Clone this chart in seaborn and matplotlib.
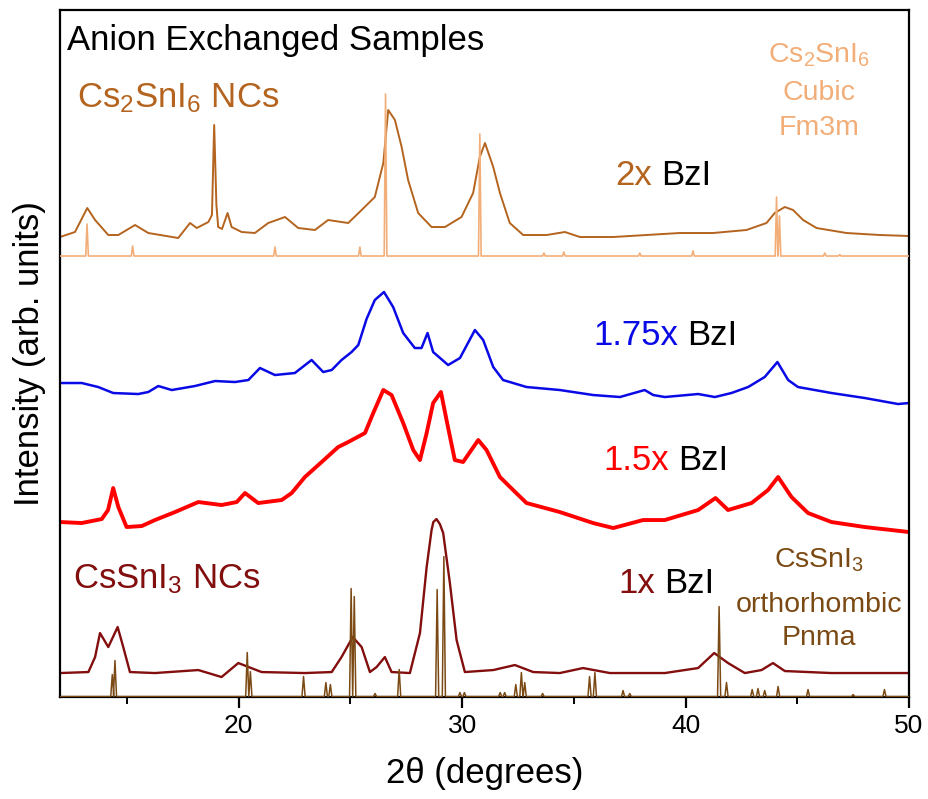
import numpy as np
import pandas as pd
import matplotlib
matplotlib.use("Agg")
import matplotlib.pyplot as plt
import seaborn as sns

# ---------------- data (2theta in degrees, intensity in arb. units) ----------------
cs2sni6_x = [12.0, 12.67, 13.22, 13.57, 14.16, 14.61, 15.36, 15.95, 17.29, 17.82, 18.12, 18.64,
             18.80, 18.90, 19.00, 19.08, 19.25, 19.50, 19.68, 20.13, 20.72, 21.32, 22.07, 22.66,
             23.41, 24.00, 24.90, 25.50, 26.09, 26.47, 26.69, 26.99, 27.29, 27.58, 28.03, 28.63,
             29.23, 29.97, 30.49, 30.79, 31.02, 31.39, 31.69, 32.13, 32.73, 33.78, 34.60, 35.27,
             36.76, 38.25, 39.74, 41.23, 42.72, 43.62, 43.99, 44.44, 44.81, 45.26, 45.86, 47.20,
             48.69, 50.0]
cs2sni6_y = [460, 465, 489, 477, 462, 462, 472, 464, 459, 474, 469, 475,
             482, 572, 492, 470, 468, 484, 470, 465, 464, 474, 480, 469,
             467, 477, 474, 487, 500, 534, 587, 577, 550, 517, 484, 470,
             470, 480, 504, 540, 554, 530, 504, 474, 462, 462, 465, 460,
             460, 462, 464, 464, 467, 474, 484, 490, 487, 477, 469, 464,
             462, 461]

bzi175_x = [12.0, 12.97, 13.71, 14.38, 15.50, 15.95, 16.40, 17.00, 18.04, 18.94, 19.83, 20.43,
            20.95, 21.62, 22.51, 23.26, 23.78, 24.16, 24.60, 25.05, 25.35, 25.72, 26.09,
            26.50, 26.91, 27.36, 27.88, 28.18, 28.45, 28.70, 29.37, 29.90, 30.57, 30.94, 31.39,
            31.83, 32.88, 34.37, 35.86, 37.06, 38.17, 38.55, 39.07, 40.56, 41.31, 42.05, 42.80,
            43.54, 44.11, 44.59, 45.03, 46.53, 48.02, 49.51, 50.0]
bzi175_y = [314, 314, 310, 304, 303, 305, 311, 307, 311, 316, 315, 317,
            329, 322, 324, 337, 325, 327, 337, 345, 352, 378, 397,
            405, 390, 364, 349, 349, 364, 345, 332, 339, 367, 357, 330,
            317, 310, 307, 302, 300, 307, 302, 300, 303, 300, 304, 310,
            320, 335, 317, 310, 304, 299, 293, 294]

bzi15_x = [12.0, 12.97, 13.87, 14.15, 14.38, 14.61, 14.98, 15.66, 16.25, 17.15, 18.19, 19.23,
           19.91, 20.28, 20.87, 21.92, 22.37, 22.96, 23.71, 24.45, 24.90, 25.65, 26.02, 26.47,
           26.84, 27.36, 27.81, 28.11, 28.41, 28.70, 29.05, 29.30, 29.67, 30.04, 30.72, 31.09,
           31.69, 32.28, 32.88, 34.37, 35.86, 36.76, 38.10, 39.07, 40.56, 41.34, 41.90, 42.95,
           43.69, 44.14, 44.74, 45.48, 46.53, 48.02, 50.0]
bzi15_y = [175, 174, 178, 187, 209, 190, 170, 171, 177, 185, 195, 192,
           195, 204, 194, 197, 204, 220, 235, 250, 255, 264, 284, 307,
           302, 274, 247, 237, 264, 294, 305, 277, 237, 235, 257, 247,
           220, 207, 194, 185, 174, 169, 177, 177, 187, 199, 187, 194,
           207, 220, 200, 184, 175, 170, 165]

cssni3_x = [12.0, 13.27, 13.57, 13.79, 14.16, 14.58, 14.83, 15.13, 16.25, 18.19, 19.23, 19.98,
            21.02, 22.96, 24.16, 24.60, 25.10, 25.50, 25.87, 26.17, 26.54, 26.84, 27.66, 28.11,
            28.41, 28.63, 28.71, 28.85, 29.00, 29.15, 29.45, 29.75, 30.12, 31.39, 32.36, 33.18,
            34.37, 35.41, 36.61, 39.07, 40.56, 41.28, 41.90, 42.65, 43.40, 43.91, 44.44, 46.53,
            50.0]
cssni3_y = [24, 25, 40, 64, 50, 70, 50, 25, 24, 27, 20, 34,
            25, 24, 25, 40, 60, 50, 25, 30, 40, 25, 24, 64,
            130, 167, 175, 178, 173, 164, 114, 57, 25, 27, 32, 25,
            24, 29, 24, 24, 29, 44, 34, 24, 27, 34, 26, 24,
            24]

# reference patterns: peak positions (2theta) and peak heights above baseline
ref_cubic_pos = [13.21, 15.25, 21.62, 25.42, 26.57, 30.79, 33.66, 34.55, 37.95, 40.33,
                 44.07, 44.20, 46.23, 46.90]
ref_cubic_h = [32, 10, 9, 9, 162, 122, 3, 4, 3, 5, 59, 40, 3, 1.5]
ref_cubic_base = 441

ref_ortho_pos = [14.34, 14.46, 20.38, 20.52, 22.90, 23.90, 24.10, 25.03, 25.17, 26.10,
                 27.18, 28.88, 29.18, 29.90, 30.10, 31.70, 31.90, 32.40, 32.65, 32.80,
                 33.60, 35.70, 35.94, 37.20, 37.50, 41.50, 41.83, 42.98, 43.24, 43.54,
                 44.14, 45.48, 47.50, 48.90]
ref_ortho_h = [22, 36, 44, 25, 20, 14, 12, 108, 100, 3,
               27, 107, 140, 4, 4, 4, 4, 12, 24, 14,
               3, 20, 24, 6, 3, 90, 14, 7, 8, 6,
               10, 7, 2, 7]
ref_ortho_base = 0.5

bzi_labels = ["2x ", "1.75x ", "1.5x ", "1x "]
label_colors = ["#B4641E", "#0A0AE6", "#FF0000", "#820E0E"]

# ---------------- styling ----------------
sns.set_theme(style="ticks")
plt.rcParams["font.family"] = ["Liberation Sans", "DejaVu Sans"]
plt.rcParams["mathtext.fontset"] = "custom"
plt.rcParams["mathtext.rm"] = "Liberation Sans"
plt.rcParams["mathtext.it"] = "Liberation Sans:italic"
plt.rcParams["mathtext.bf"] = "Liberation Sans:bold"
plt.rcParams["xtick.major.size"] = 8
plt.rcParams["xtick.major.width"] = 1.6
plt.rcParams["xtick.minor.size"] = 5
plt.rcParams["xtick.minor.width"] = 1.4
plt.rcParams["xtick.color"] = "black"

fig = plt.figure(figsize=(9.29, 7.99), dpi=100)
ax = fig.add_axes([0.0646, 0.1276, 0.9139, 0.8599])


def stick_frame(pos, hts, base, w):
    xs, ys = [12.0], [base]
    for p, h in sorted(zip(pos, hts)):
        xs += [p - w, p, p + w]
        ys += [base, base + h, base]
    xs.append(50.0)
    ys.append(base)
    return pd.DataFrame({"x": xs, "y": ys})


traces = [
    (cs2sni6_x, cs2sni6_y, "#B4641E", 1.4),
    (bzi175_x, bzi175_y, "#0A0AE6", 1.8),
    (bzi15_x, bzi15_y, "#FF0000", 2.8),
    (cssni3_x, cssni3_y, "#820E0E", 1.7),
]
for xs, ys, c, lw in traces:
    sns.lineplot(x=xs, y=ys, color=c, lw=lw, ax=ax, estimator=None, sort=False, zorder=2)

df_cubic = stick_frame(ref_cubic_pos, ref_cubic_h, ref_cubic_base, 0.06)
sns.lineplot(data=df_cubic, x="x", y="y", color="#F2AE78", lw=1.2, ax=ax,
             estimator=None, sort=False, zorder=3)
df_ortho = stick_frame(ref_ortho_pos, ref_ortho_h, ref_ortho_base, 0.07)
sns.lineplot(data=df_ortho, x="x", y="y", color="#7B4A14", lw=1.1, ax=ax,
             estimator=None, sort=False, zorder=3)

ax.set_xlim(12, 50)
ax.set_ylim(0, 687)
ax.set_yticks([])
ax.set_xticks([20, 30, 40, 50])
ax.set_xticks([15, 25, 35, 45], minor=True)
ax.tick_params(axis="x", which="major", labelsize=19, pad=4, labelcolor="black")
for s in ax.spines.values():
    s.set_linewidth(1.6)
    s.set_color("black")

ax.set_xlabel("2θ (degrees)", fontsize=25, labelpad=14, color="black")
ax.set_ylabel("Intensity (arb. units)", fontsize=25, labelpad=10, color="black")

# ---------------- annotations ----------------
FS = 25
ax.text(12.31, 647, "Anion Exchanged Samples", fontsize=FS, color="black", ha="left", va="baseline")
ax.text(12.76, 590, r"Cs$_2$SnI$_6$ NCs", fontsize=FS, color="#B4641E", ha="left", va="baseline")
ax.text(12.60, 109, r"CsSnI$_3$ NCs", fontsize=FS, color="#820E0E", ha="left", va="baseline")

for txt, yb in zip([r"Cs$_2$SnI$_6$", "Cubic", "Fm3m"], [634, 597, 562]):
    ax.text(45.96, yb, txt, fontsize=20.5, color="#F2AE78", ha="center", va="baseline")
for txt, yb in zip([r"CsSnI$_3$", "orthorhombic", "Pnma"], [130, 85, 52]):
    ax.text(45.96, yb, txt, fontsize=20.5, color="#7B4A14", ha="center", va="baseline")

label_pos = [(36.83, 512), (35.85, 352), (36.30, 227), (36.97, 104)]
for (lx, ly), txt, c in zip(label_pos, bzi_labels, label_colors):
    t1 = ax.text(lx, ly, txt.strip(), fontsize=FS, color=c, ha="left", va="baseline")
    ax.annotate("BzI", xy=(1, 0), xycoords=t1, xytext=(7, 0), textcoords="offset points",
                ha="left", va="bottom", fontsize=FS, color="black")

fig.savefig("out.png", dpi=100)
